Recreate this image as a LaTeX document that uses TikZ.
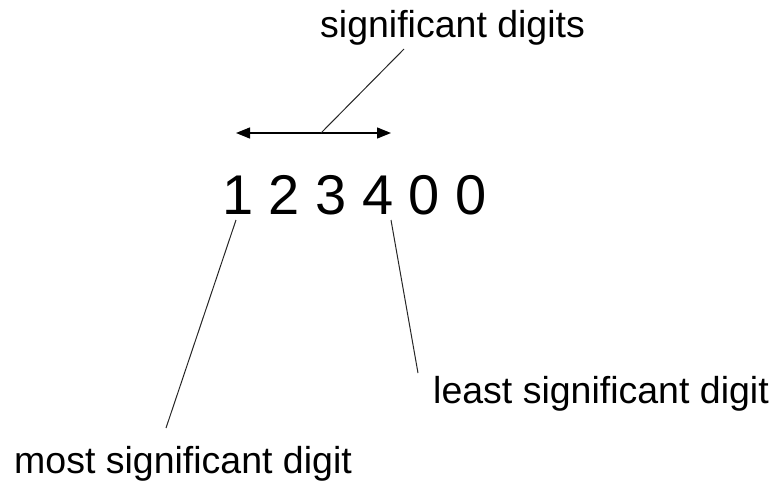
\documentclass[tikz,border=0pt]{standalone}
\usepackage{fontspec}
\setmainfont{Liberation Sans}
\usetikzlibrary{arrows.meta}
\begin{document}
\begin{tikzpicture}[x=1pt,y=-1pt,
  lbl/.style={inner sep=0pt,anchor=base west,font=\fontsize{37.5}{40}\selectfont},
  digits/.style={inner sep=0pt,anchor=base west,font=\fontsize{56}{60}\selectfont},
  conn/.style={line width=1pt,draw=black!85},
  dimarrow/.style={line width=1.3pt,{Triangle[length=14pt,width=11pt]}-{Triangle[length=14pt,width=11pt]}}]
\useasboundingbox (0,0) rectangle (774,482);
\node[lbl] (sd) at (320,37) {significant digits};
\node[digits] (num) at (222,214) {1 2 3 4 0 0};
\node[lbl] (lsd) at (433,403) {least significant digit};
\node[lbl] (msd) at (14,473) {most significant digit};
\coordinate (aL) at (236,133);
\coordinate (aR) at (391,133);
\coordinate (aM) at (321,133);
\coordinate (sdEnd) at (404,49);
\coordinate (oneTop) at (236,220);
\coordinate (msdEnd) at (166,428);
\coordinate (fourTop) at (391,220);
\coordinate (lsdEnd) at (418,373);
\draw[dimarrow] (aL) -- (aR);
\draw[conn] (aM) -- (sdEnd);
\draw[conn] (oneTop) -- (msdEnd);
\draw[conn] (fourTop) -- (lsdEnd);
\end{tikzpicture}
\end{document}
